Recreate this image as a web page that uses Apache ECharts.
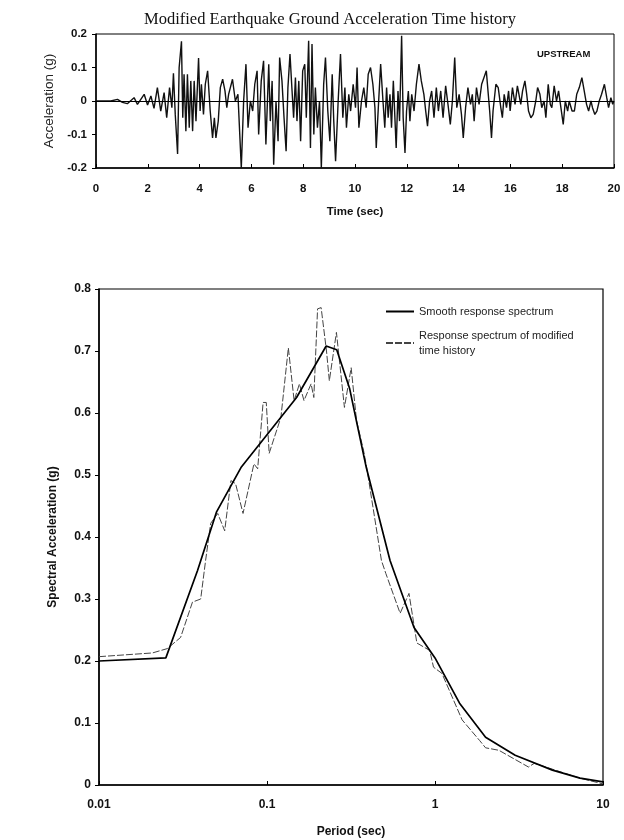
<!DOCTYPE html>
<html>
<head>
<meta charset="utf-8">
<script src="https://cdn.jsdelivr.net/npm/echarts@6/dist/echarts.min.js"></script>
<style>
  html, body { margin: 0; padding: 0; background: #fff; }
  #chart { width: 624px; height: 840px; }
</style>
</head>
<body>
<div id="chart"></div>
<script>
// acceleration time history (peaks / troughs)
var timeSec = [0, 0.57, 0.83, 1.02, 1.21, 1.37, 1.47, 1.60, 1.73, 1.86, 1.99, 2.12, 2.24, 2.37, 2.50, 2.63, 2.73, 2.84, 2.93, 2.99,
  3.06, 3.15, 3.21, 3.30, 3.35, 3.40, 3.47, 3.53, 3.60, 3.66, 3.73, 3.79, 3.86, 3.96, 4.02, 4.07, 4.15, 4.22, 4.31, 4.41,
  4.50, 4.57, 4.63, 4.72, 4.80, 4.89, 4.98, 5.05, 5.12, 5.27, 5.38, 5.48, 5.61, 5.70, 5.79, 5.87, 5.96, 6.05, 6.13, 6.22,
  6.28, 6.38, 6.47, 6.56, 6.67, 6.73, 6.80, 6.86, 6.95, 7.03, 7.09, 7.18, 7.26, 7.34, 7.41, 7.49, 7.57, 7.63, 7.70, 7.76,
  7.83, 7.90, 7.98, 8.06, 8.12, 8.21, 8.28, 8.34, 8.41, 8.47, 8.55, 8.63, 8.70, 8.79, 8.86, 8.95, 9.03, 9.12, 9.18, 9.25,
  9.35, 9.44, 9.53, 9.61, 9.67, 9.76, 9.83, 9.93, 10.02, 10.08, 10.15, 10.25, 10.34, 10.43, 10.51, 10.60, 10.69, 10.77, 10.82, 10.90,
  10.99, 11.08, 11.15, 11.22, 11.28, 11.35, 11.41, 11.48, 11.59, 11.66, 11.72, 11.80, 11.86, 11.93, 11.99, 12.06, 12.12, 12.19, 12.28, 12.37,
  12.47, 12.56, 12.66, 12.73, 12.80, 12.88, 12.96, 13.05, 13.14, 13.22, 13.31, 13.40, 13.50, 13.59, 13.68, 13.76, 13.85, 13.93, 14.02, 14.11,
  14.18, 14.27, 14.36, 14.46, 14.53, 14.60, 14.69, 14.79, 14.89, 14.98, 15.07, 15.20, 15.27, 15.33, 15.44, 15.53, 15.63, 15.69, 15.76, 15.85,
  15.93, 15.99, 16.08, 16.18, 16.27, 16.34, 16.40, 16.47, 16.56, 16.63, 16.70, 16.79, 16.88, 16.98, 17.05, 17.14, 17.21, 17.30, 17.37, 17.46,
  17.54, 17.60, 17.69, 17.78, 17.86, 17.95, 18.04, 18.12, 18.21, 18.27, 18.38, 18.47, 18.56, 18.66, 18.76, 18.85, 18.94, 19.02, 19.11, 19.17,
  19.26, 19.34, 19.43, 19.52, 19.63, 19.72, 19.79, 19.88, 19.95, 20];
var accel = [0, 0, 0.005, -0.004, -0.008, 0.003, 0.010, -0.010, 0.005, 0.020, -0.012, 0.015, -0.022, 0.040, -0.030, 0.025, -0.050, 0.040, -0.020, 0.083,
  -0.040, -0.158, 0.100, 0.178, -0.050, 0.080, -0.090, 0.080, -0.080, 0.060, -0.090, 0.060, -0.060, 0.128, -0.030, 0.050, -0.040, 0.050, 0.090, -0.030,
  -0.110, -0.050, -0.110, -0.060, 0.040, 0.065, 0.030, -0.020, 0.020, 0.065, 0.000, 0.020, -0.200, 0.000, 0.110, -0.080, 0.000, -0.030, 0.050, 0.090,
  -0.100, 0.060, 0.120, -0.130, 0.110, -0.060, 0.060, -0.190, 0.000, -0.120, 0.130, 0.060, -0.050, -0.150, 0.040, 0.140, 0.030, -0.050, 0.070, -0.060,
  0.060, -0.120, 0.090, 0.110, -0.050, 0.180, -0.140, 0.170, -0.100, 0.040, -0.080, 0.000, -0.200, 0.050, 0.130, -0.030, -0.120, 0.080, -0.060, -0.180,
  0.000, 0.140, -0.050, 0.040, -0.080, 0.020, -0.030, 0.050, -0.020, 0.100, -0.080, 0.000, 0.040, -0.020, 0.080, 0.100, 0.050, -0.020, -0.140, -0.020,
  0.110, 0.000, -0.080, 0.040, -0.050, 0.020, -0.080, 0.060, -0.140, 0.030, -0.060, 0.195, -0.050, -0.155, -0.030, 0.030, -0.060, 0.020, -0.030, 0.050,
  0.110, 0.060, 0.020, -0.030, -0.075, 0.000, 0.030, -0.050, 0.040, -0.030, 0.030, -0.050, 0.045, -0.010, -0.070, 0.000, 0.130, -0.020, 0.020, -0.040,
  -0.110, -0.020, 0.040, -0.010, 0.020, -0.060, 0.040, -0.010, 0.050, 0.070, 0.090, -0.030, -0.110, -0.030, 0.050, 0.040, -0.020, -0.050, 0.020, -0.020,
  0.030, -0.030, 0.040, -0.010, 0.045, 0.050, -0.010, 0.030, 0.060, 0.020, -0.030, -0.050, -0.040, 0.000, 0.040, 0.020, -0.020, 0.000, -0.050, 0.050,
  -0.010, -0.020, 0.045, 0.000, 0.030, -0.020, -0.070, 0.000, -0.030, 0.000, -0.030, -0.030, 0.020, 0.040, 0.070, 0.030, -0.010, -0.030, 0.000, -0.020,
  -0.040, -0.030, 0.000, 0.020, 0.050, 0.010, -0.020, 0.010, -0.010, 0];

var timeTicks = [0, 2, 4, 6, 8, 10, 12, 14, 16, 18, 20];

// response spectra
var periodSmooth = [0.01, 0.025, 0.0386, 0.05, 0.07, 0.1, 0.15, 0.225, 0.26, 0.31, 0.34, 0.39, 0.54, 0.75, 1.0, 1.4, 2.0, 3.0, 5.0, 7.3, 10];
var saSmooth = [0.200, 0.205, 0.346, 0.440, 0.512, 0.565, 0.625, 0.708, 0.702, 0.640, 0.588, 0.512, 0.362, 0.254, 0.205, 0.132, 0.077, 0.048, 0.024, 0.011, 0.005];

var periodMod = [0.01, 0.0208, 0.0255, 0.0306, 0.036, 0.0403, 0.0431, 0.0462, 0.0509, 0.056, 0.061, 0.065, 0.072, 0.0836, 0.088, 0.0948, 0.099,
  0.103, 0.121, 0.134, 0.145, 0.156, 0.166, 0.183, 0.19, 0.2, 0.21, 0.226, 0.235, 0.259, 0.289, 0.317, 0.341, 0.376, 0.392,
  0.48, 0.51, 0.62, 0.70, 0.78, 0.93, 0.98, 1.10, 1.45, 1.84, 2.0, 2.4, 3.6, 3.9, 7.3, 9.9];
var saMod = [0.207, 0.213, 0.220, 0.238, 0.295, 0.300, 0.362, 0.422, 0.438, 0.410, 0.491, 0.486, 0.438, 0.518, 0.510, 0.617, 0.617,
  0.535, 0.593, 0.705, 0.620, 0.647, 0.620, 0.647, 0.625, 0.768, 0.770, 0.700, 0.652, 0.730, 0.609, 0.673, 0.588, 0.539, 0.512,
  0.362, 0.341, 0.277, 0.309, 0.229, 0.217, 0.190, 0.180, 0.105, 0.072, 0.060, 0.056, 0.029, 0.035, 0.011, 0.002];

function pairs(xs, ys) {
    var arr = [];
    for (var i = 0; i < xs.length; i++) {
        arr.push([xs[i], ys[i]]);
    }
    return arr;
}

var sans = 'Liberation Sans';
var chart = echarts.init(document.getElementById('chart'));
var option = {
    animation: false,
    title: [
        {
            text: 'Modified Earthquake Ground Acceleration Time history',
            left: 325, top: 6, textAlign: 'center',
            textStyle: { fontFamily: 'Liberation Serif', fontSize: 16.5, fontWeight: 'normal', color: '#111' }
        },
        {
            text: 'UPSTREAM',
            left: 532, top: 44,
            textStyle: { fontFamily: sans, fontSize: 9.5, fontWeight: 'bold', color: '#111' }
        }
    ],
    legend: {
        orient: 'vertical',
        left: 380, top: 299,
        itemWidth: 28, itemHeight: 10, itemGap: 9,
        itemStyle: { opacity: 0 },
        textStyle: { fontFamily: sans, fontSize: 11, color: '#222', lineHeight: 15 },
        data: ['Smooth response spectrum', 'Response spectrum of modified time history'],
        formatter: function (name) {
            return name.replace('modified ', 'modified\n');
        }
    },
    grid: [
        { left: 96, right: 10, top: 34, bottom: 672, show: true, borderColor: '#000', borderWidth: 1,
          outerBoundsMode: 'none', containLabel: false },
        { left: 99, right: 21, top: 289, bottom: 55, show: true, borderColor: '#000', borderWidth: 1.2,
          outerBoundsMode: 'none', containLabel: false }
    ],
    xAxis: [
        {
            gridIndex: 0, type: 'value', min: 0, max: 20, interval: 2,
            name: 'Time (sec)', nameLocation: 'middle', nameGap: 38,
            nameTextStyle: { fontFamily: sans, fontSize: 11.5, fontWeight: 'bold', color: '#111' },
            axisLine: { onZero: false, lineStyle: { color: '#000', width: 1.5 } },
            axisTick: { inside: true, length: 4, lineStyle: { color: '#000' } },
            axisLabel: { margin: 15, fontFamily: sans, fontSize: 11.5, fontWeight: 'bold', color: '#111',
                customValues: timeTicks },
            splitLine: { show: false }
        },
        {
            gridIndex: 1, type: 'log', logBase: 10, min: 0.01, max: 10,
            name: 'Period (sec)', nameLocation: 'middle', nameGap: 41,
            nameTextStyle: { fontFamily: sans, fontSize: 12, fontWeight: 'bold', color: '#111' },
            axisLine: { onZero: false, lineStyle: { color: '#000', width: 1.5 } },
            axisTick: { inside: true, length: 4, lineStyle: { color: '#000' } },
            axisLabel: { margin: 14, fontFamily: sans, fontSize: 12, fontWeight: 'bold', color: '#111',
                formatter: function (v) { return String(+v.toPrecision(3)); } },
            splitLine: { show: false },
            minorTick: { show: false }
        }
    ],
    yAxis: [
        {
            gridIndex: 0, type: 'value', min: -0.2, max: 0.2, interval: 0.1,
            name: 'Acceleration (g)', nameLocation: 'middle', nameGap: 27,
            nameTextStyle: { fontFamily: sans, fontSize: 13.5, color: '#222' },
            axisLine: { show: true, lineStyle: { color: '#000', width: 1.5 } },
            axisTick: { show: true, length: 4, lineStyle: { color: '#000' } },
            axisLabel: { margin: 9, fontFamily: sans, fontSize: 11.5, fontWeight: 'bold', color: '#111',
                formatter: function (v) { return v === 0 ? '0' : (+v.toFixed(1)).toString(); } },
            splitLine: { show: false }
        },
        {
            gridIndex: 1, type: 'value', min: 0, max: 0.8, interval: 0.1,
            name: 'Spectral Acceleration (g)', nameLocation: 'middle', nameGap: 40,
            nameTextStyle: { fontFamily: sans, fontSize: 12, fontWeight: 'bold', color: '#111' },
            axisLine: { show: true, lineStyle: { color: '#000', width: 1.5 } },
            axisTick: { show: true, length: 4, lineStyle: { color: '#000' } },
            axisLabel: { margin: 8, fontFamily: sans, fontSize: 12, fontWeight: 'bold', color: '#111',
                formatter: function (v) { return v === 0 ? '0' : v.toFixed(1); } },
            splitLine: { show: false }
        }
    ],
    series: [
        {
            name: 'Acceleration', type: 'line', xAxisIndex: 0, yAxisIndex: 0,
            data: pairs(timeSec, accel),
            symbol: 'none', silent: true,
            itemStyle: { color: '#111' },
            lineStyle: { color: '#111', width: 1.4 },
            markLine: {
                silent: true, symbol: 'none', label: { show: false },
                lineStyle: { color: '#000', width: 1.2, type: 'solid' },
                data: [{ yAxis: 0 }]
            }
        },
        {
            name: 'Response spectrum of modified time history', type: 'line', xAxisIndex: 1, yAxisIndex: 1,
            data: pairs(periodMod, saMod),
            symbol: 'none',
            itemStyle: { color: '#888' },
            lineStyle: { color: '#444', width: 1, type: [7, 2] }
        },
        {
            name: 'Smooth response spectrum', type: 'line', xAxisIndex: 1, yAxisIndex: 1,
            data: pairs(periodSmooth, saSmooth),
            symbol: 'none',
            itemStyle: { color: '#000' },
            lineStyle: { color: '#000', width: 1.7 }
        }
    ]
};
chart.setOption(option);
</script>
</body>
</html>
